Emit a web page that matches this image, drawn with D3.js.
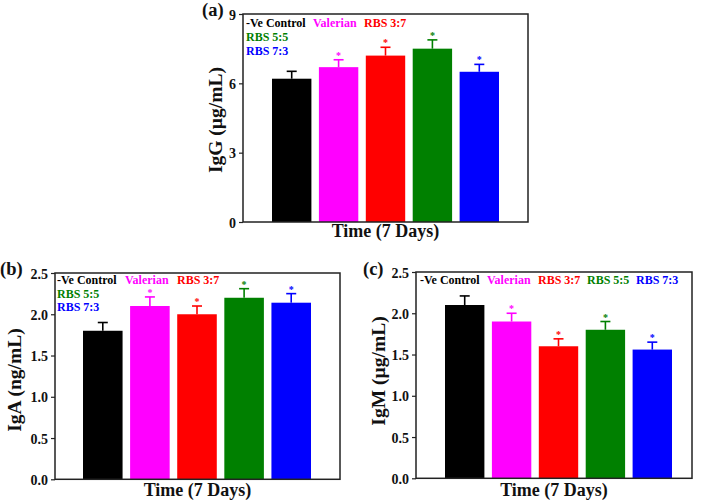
<!DOCTYPE html>
<html><head><meta charset="utf-8">
<script src="https://cdn.jsdelivr.net/npm/d3@7"></script>
<style>
body{margin:0;background:#fff;}
text{font-family:"Liberation Serif","Times New Roman",serif;font-weight:bold;}
</style></head>
<body><svg id="c" width="703" height="503"></svg>
<script>
const groups = ["-Ve Control","Valerian","RBS 3:7","RBS 5:5","RBS 7:3"];
const colors = ["#000000","#ff00ff","#ff0000","#008000","#0000ff"];
const iggValues = [6.2, 6.7, 7.2, 7.5, 6.5];
const iggErrors = [0.32, 0.32, 0.36, 0.38, 0.32];
const igaValues = [1.80, 2.10, 2.00, 2.20, 2.14];
const igaErrors = [0.10, 0.11, 0.10, 0.11, 0.11];
const igmValues = [2.10, 1.90, 1.60, 1.80, 1.56];
const igmErrors = [0.11, 0.10, 0.09, 0.10, 0.09];
const significant = [false, true, true, true, true];
const iggTicks = [0, 3, 6, 9];
const igTicks = [0.0, 0.5, 1.0, 1.5, 2.0, 2.5];
const yLabels = ["IgG (\u00b5g/mL)", "IgA (ng/mL)", "IgM (\u00b5g/mL)"];
const xLabel = "Time (7 Days)";

const svg = d3.select("#c");

function panel(cfg){
  const {x0,x1,y0,y1,values,errors,ticks,fmt,ymax,label,ylab,legend} = cfg;
  const g = svg.append("g");
  const y = d3.scaleLinear().domain([0,ymax]).range([y1,y0]);
  const x = d3.scaleBand().domain(groups).range([x0+cfg.padL, x1-cfg.padR]).paddingInner(0.16).paddingOuter(0);
  g.selectAll("rect.bar").data(groups).join("rect")
    .attr("x",d=>x(d)).attr("width",x.bandwidth())
    .attr("y",(d,i)=>y(values[i])).attr("height",(d,i)=>y(0)-y(values[i]))
    .attr("fill",(d,i)=>colors[i]);
  groups.forEach((d,i)=>{
    const cx = x(d)+x.bandwidth()/2;
    const top = y(values[i]+errors[i]);
    g.append("line").attr("x1",cx).attr("x2",cx).attr("y1",y(values[i])).attr("y2",top)
      .attr("stroke",colors[i]).attr("stroke-width",1.6);
    g.append("line").attr("x1",cx-5).attr("x2",cx+5).attr("y1",top).attr("y2",top)
      .attr("stroke",colors[i]).attr("stroke-width",1.6);
    if(significant[i]){
      g.append("text").attr("x",cx).attr("y",top-1).attr("text-anchor","middle")
        .attr("font-size",10).attr("fill",colors[i]).attr("font-weight","normal").text("*");
    }
  });
  g.append("rect").attr("x",x0).attr("y",y0).attr("width",x1-x0).attr("height",y1-y0)
    .attr("fill","none").attr("stroke","#222").attr("stroke-width",1.5);
  const ax = g.append("g").attr("transform",`translate(${x0},0)`)
    .call(d3.axisLeft(y).tickValues(ticks).tickFormat(fmt).tickSize(4).tickPadding(3));
  ax.select(".domain").remove();
  ax.selectAll(".tick line").attr("stroke","#222").attr("stroke-width",1.2);
  ax.selectAll(".tick text").attr("font-size",14).attr("fill","#111").attr("dy","0.36em")
    .style("font-family","'Liberation Serif',serif").style("font-weight","bold");
  g.append("text").attr("x",cfg.plx).attr("y",cfg.ply).attr("font-size",18.5).attr("fill","#111").text(label);
  g.append("text").attr("transform",`translate(${cfg.ylx},${cfg.ylc}) rotate(-90)`)
    .attr("text-anchor","middle").attr("font-size",19.5).attr("fill","#111").text(ylab);
  g.append("text").attr("x",(x0+x1)/2).attr("y",cfg.xly).attr("text-anchor","middle")
    .attr("font-size",18).attr("fill","#111").text(xLabel);
  legend.forEach((p,i)=>{
    g.append("text").attr("x",p[0]).attr("y",p[1]).attr("font-size",12)
      .attr("fill",colors[i]).text(groups[i]);
  });
}

panel({x0:243,x1:528,y0:14,y1:222,padL:29,padR:29,values:iggValues,errors:iggErrors,
  ticks:iggTicks,fmt:d3.format("d"),ymax:9,label:"(a)",plx:202,ply:16,ylab:yLabels[0],ylx:222,ylc:120,xly:237,
  legend:[[246,27],[313,27],[364,27],[246,41],[246,55]]});
panel({x0:55,x1:340,y0:273,y1:479.3,padL:28,padR:29,values:igaValues,errors:igaErrors,
  ticks:igTicks,fmt:d3.format(".1f"),ymax:2.5,label:"(b)",plx:0,ply:275,ylab:yLabels[1],ylx:21,ylc:380,xly:496,
  legend:[[57,284],[125,284],[177,284],[57,297.5],[57,311]]});
panel({x0:416,x1:692,y0:272,y1:478.3,padL:29,padR:20,values:igmValues,errors:igmErrors,
  ticks:igTicks,fmt:d3.format(".1f"),ymax:2.5,label:"(c)",plx:363,ply:275,ylab:yLabels[2],ylx:385,ylc:371,xly:496,
  legend:[[420,284],[487,284],[538,284],[587,284],[636,284]]});
</script></body></html>
